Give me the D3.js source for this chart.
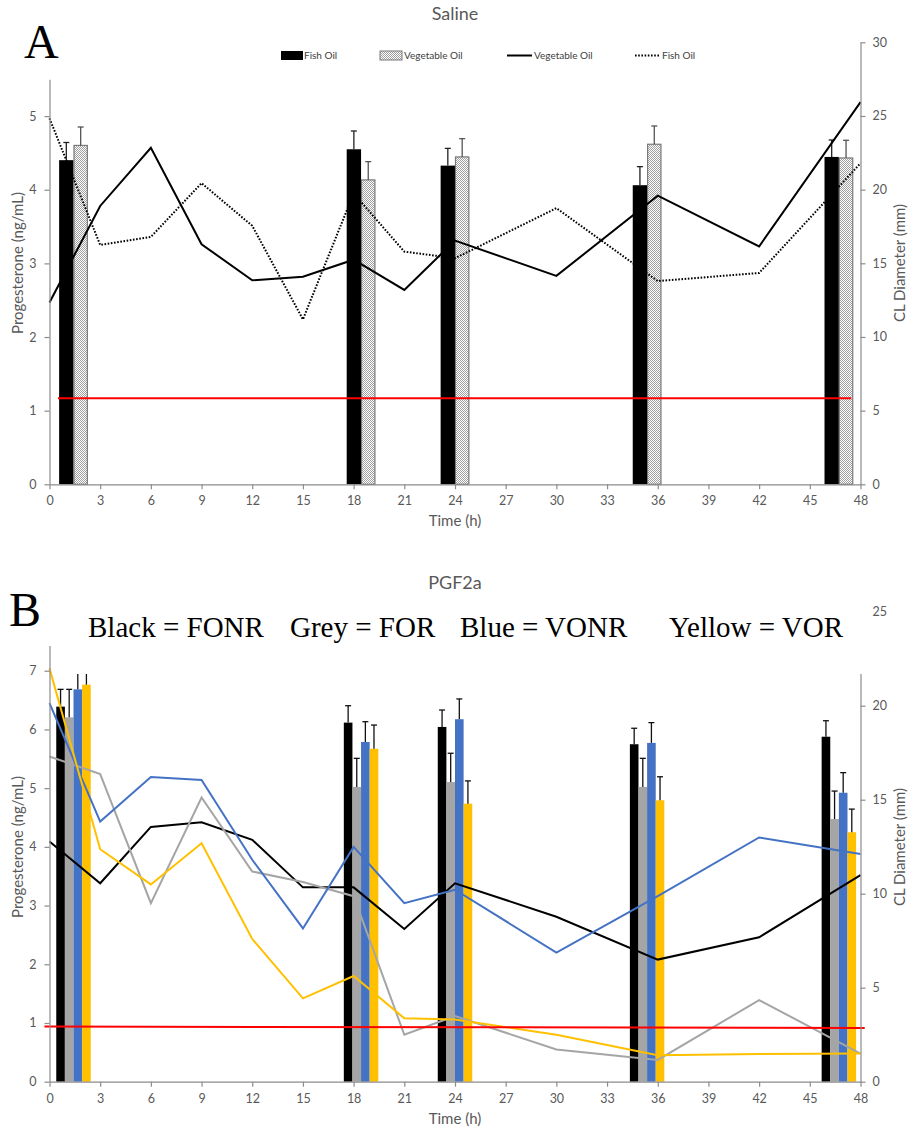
<!DOCTYPE html>
<html><head><meta charset="utf-8">
<script src="https://cdn.jsdelivr.net/npm/d3@7/dist/d3.min.js"></script>
<style>body{margin:0;background:#fff}</style>
</head><body>
<svg id="c" width="909" height="1130" xmlns="http://www.w3.org/2000/svg"></svg>
<script>
// ---------- DATA ----------
const times = [0,3,6,9,12,15,18,21,24,30,36,42,48];
const xTickValues = [0,3,6,9,12,15,18,21,24,27,30,33,36,39,42,45,48];
const barTimes = [1.42,18.44,24.0,35.37,46.72];

// Panel A (Saline) progesterone lines (ng/mL)
const salineVegLine  = [2.47,3.78,4.57,3.26,2.77,2.82,3.05,2.64,3.31,2.83,3.92,3.23,5.19];
const salineFishLine = [4.97,3.25,3.36,4.09,3.51,2.24,3.95,3.16,3.07,3.75,2.76,2.87,4.36];
// Panel A CL diameter bars (mm) and errors
const salineFishBar = [22.0,22.74,21.63,20.3,22.22];
const salineFishErr = [1.2,1.24,1.17,1.26,1.15];
const salineVegBar  = [23.0,20.66,22.22,23.08,22.15];
const salineVegErr  = [1.25,1.24,1.24,1.24,1.2];
const salineThreshold = 1.17;

// Panel B (PGF2a) progesterone lines (ng/mL)
const fonrLine = [4.09,3.38,4.34,4.42,4.12,3.31,3.31,2.60,3.38,2.81,2.08,2.46,3.52];
const forLine  = [5.54,5.24,3.04,4.84,3.58,3.40,3.16,0.80,1.12,0.55,0.37,1.39,0.48];
const vonrLine = [6.45,4.43,5.19,5.14,3.78,2.61,4.00,3.04,3.27,2.20,3.16,4.16,3.88];
const vorLine  = [7.04,3.96,3.36,4.06,2.43,1.42,1.80,1.08,1.06,0.80,0.45,0.47,0.48];
// Panel B CL diameter bars (mm) and errors
const fonrBar = [19.95,19.1,18.87,17.95,18.35];
const fonrErr = [0.92,0.9,0.9,0.85,0.85];
const forBar  = [19.38,15.68,15.94,15.68,13.97];
const forErr  = [1.49,1.52,1.53,1.52,1.49];
const vonrBar = [20.87,18.07,19.28,18.02,15.37];
const vonrErr = [1.2,1.08,1.08,1.08,1.07];
const vorBar  = [21.12,17.71,14.79,14.97,13.27];
const vorErr  = [1.0,1.26,1.21,1.25,1.23];
const pgfThreshold = [0.94,0.915];

const leftTicksA = [0,1,2,3,4,5];
const rightTicksA = [0,5,10,15,20,25,30];
const leftTicksB = [0,1,2,3,4,5,6,7];
const rightTicksB = [0,5,10,15,20,25];

// ---------- DRAW ----------
const svg = d3.select("#c");
const FONT = "Lato, 'Open Sans', sans-serif";
const SERIF = "'Liberation Serif', 'DejaVu Serif', serif";
const AX = "#8c8c8c", TXT = "#595959";

const defs = svg.append("defs");
const pat = defs.append("pattern").attr("id","dots").attr("width",2).attr("height",2)
  .attr("patternUnits","userSpaceOnUse");
pat.append("rect").attr("width",2).attr("height",2).attr("fill","#fff");
pat.append("rect").attr("width",1).attr("height",1).attr("fill","#a0a0a0");
pat.append("rect").attr("x",1).attr("y",1).attr("width",1).attr("height",1).attr("fill","#a0a0a0");

const x = d3.scaleLinear().domain([0,48]).range([49.5,860.5]);
const fmt = d3.format("d");

function styleAxis(g){
  g.select(".domain").attr("stroke",AX).attr("stroke-width",1.2);
  g.selectAll(".tick line").attr("stroke",AX).attr("stroke-width",1.2);
  g.selectAll(".tick text").attr("fill",TXT).style("font-family",FONT).style("font-size","12.5px");
}

function axes(yL, yR, lT, rT, bottom){
  const gx = svg.append("g").attr("transform",`translate(0,${bottom})`)
    .call(d3.axisBottom(x).tickValues(xTickValues).tickFormat(fmt).tickSize(5).tickSizeOuter(0).tickPadding(7));
  styleAxis(gx);
  const gl = svg.append("g").attr("transform",`translate(${x.range()[0]},0)`)
    .call(d3.axisLeft(yL).tickValues(lT).tickFormat(fmt).tickSize(5).tickSizeOuter(0).tickPadding(8));
  styleAxis(gl);
  const gr = svg.append("g").attr("transform",`translate(${x.range()[1]},0)`)
    .call(d3.axisRight(yR).tickValues(rT).tickFormat(fmt).tickSize(5).tickSizeOuter(0).tickPadding(7));
  styleAxis(gr);
  return gr;
}

function errBar(cx, y0, y1, color){
  svg.append("line").attr("x1",cx).attr("x2",cx).attr("y1",y0).attr("y2",y1)
    .attr("stroke",color).attr("stroke-width",1.3);
  svg.append("line").attr("x1",cx-3).attr("x2",cx+3).attr("y1",y1).attr("y2",y1)
    .attr("stroke",color).attr("stroke-width",1.3);
}

function titles(title, ty, bottom, yMid){
  svg.append("text").attr("x",455).attr("y",ty).attr("text-anchor","middle")
    .attr("fill",TXT).style("font-family",FONT).style("font-size","18px").text(title);
  svg.append("text").attr("x",455).attr("y",bottom+42).attr("text-anchor","middle")
    .attr("fill",TXT).style("font-family",FONT).style("font-size","15px").text("Time (h)");
  svg.append("text").attr("transform",`translate(23,${yMid}) rotate(-90)`).attr("text-anchor","middle")
    .attr("fill",TXT).style("font-family",FONT).style("font-size","15px").text("Progesterone (ng/mL)");
  svg.append("text").attr("transform",`translate(905,${yMid}) rotate(-90)`).attr("text-anchor","middle")
    .attr("fill",TXT).style("font-family",FONT).style("font-size","15px").text("CL Diameter (mm)");
}

// ===== Panel A =====
const yA  = d3.scaleLinear().domain([0,5.5]).range([484.3,79.3]);
const yAR = d3.scaleLinear().domain([0,30]).range([484.3,42.3]);
const bwA = 0.85;

barTimes.forEach((c,i)=>{
  const xb0 = x(c-bwA), xb1 = x(c), xv1 = x(c+bwA);
  svg.append("rect").attr("x",xb0).attr("width",xb1-xb0).attr("y",yAR(salineFishBar[i]))
    .attr("height",yAR(0)-yAR(salineFishBar[i])).attr("fill","#000");
  svg.append("rect").attr("x",xb1+0.5).attr("width",xv1-xb1-1).attr("y",yAR(salineVegBar[i]))
    .attr("height",yAR(0)-yAR(salineVegBar[i])).attr("fill","url(#dots)")
    .attr("stroke","#7a7a7a").attr("stroke-width",1.2);
  errBar((xb0+xb1)/2, yAR(salineFishBar[i]), yAR(salineFishBar[i]+salineFishErr[i]), "#222");
  errBar((xb1+xv1)/2, yAR(salineVegBar[i]), yAR(salineVegBar[i]+salineVegErr[i]), "#555");
});

const lineA = d3.line().x((d,i)=>x(times[i])).y(d=>yA(d));
svg.append("path").datum(salineVegLine).attr("d",lineA).attr("fill","none")
  .attr("stroke","#000").attr("stroke-width",2);
svg.append("path").datum(salineFishLine).attr("d",lineA).attr("fill","none")
  .attr("stroke","#000").attr("stroke-width",2).attr("stroke-dasharray","1.6,1.6");
svg.append("line").attr("x1",x(0.5)).attr("x2",x(47.45))
  .attr("y1",yA(salineThreshold)).attr("y2",yA(salineThreshold))
  .attr("stroke","#ff0000").attr("stroke-width",2);

axes(yA, yAR, leftTicksA, rightTicksA, 484.3);
titles("Saline", 20, 484.3, 263);

// legend A
const lg = svg.append("g").style("font-family",FONT).style("font-size","10px").attr("fill","#404040");
lg.append("rect").attr("x",281).attr("y",51).attr("width",22).attr("height",9).attr("fill","#000");
lg.append("text").attr("x",304).attr("y",59).text("Fish Oil");
lg.append("rect").attr("x",380).attr("y",51).attr("width",22).attr("height",9)
  .attr("fill","url(#dots)").attr("stroke","#7a7a7a").attr("stroke-width",1);
lg.append("text").attr("x",404).attr("y",59).text("Vegetable Oil");
lg.append("line").attr("x1",507).attr("x2",532).attr("y1",55.5).attr("y2",55.5)
  .attr("stroke","#000").attr("stroke-width",2);
lg.append("text").attr("x",534).attr("y",59).text("Vegetable Oil");
lg.append("line").attr("x1",635).attr("x2",660).attr("y1",55.5).attr("y2",55.5)
  .attr("stroke","#000").attr("stroke-width",2).attr("stroke-dasharray","1.6,1.6");
lg.append("text").attr("x",662).attr("y",59).text("Fish Oil");

svg.append("text").attr("x",24).attr("y",58).style("font-family",SERIF)
  .style("font-size","48px").attr("fill","#000").text("A");

// ===== Panel B =====
const yB  = d3.scaleLinear().domain([0,7.43]).range([1081.7,1081.7-7.43*58.71]);
const yBR = d3.scaleLinear().domain([0,25]).range([1081.7,1081.7-25*18.8]);
const bwB = 0.51;
const barsB = [
  {v:fonrBar,e:fonrErr,c:"#000000"},
  {v:forBar,e:forErr,c:"#a5a5a5"},
  {v:vonrBar,e:vonrErr,c:"#4472c4"},
  {v:vorBar,e:vorErr,c:"#ffc000"}
];
barTimes.forEach((c,i)=>{
  barsB.forEach((s,k)=>{
    const a = x(c+(k-2)*bwB), b = x(c+(k-1)*bwB);
    svg.append("rect").attr("x",a).attr("width",b-a).attr("y",yBR(s.v[i]))
      .attr("height",yBR(0)-yBR(s.v[i])).attr("fill",s.c);
    errBar((a+b)/2, yBR(s.v[i]), yBR(s.v[i]+s.e[i]), "#111");
  });
});
const linesB = [
  {v:fonrLine,c:"#000000"},
  {v:forLine,c:"#a5a5a5"},
  {v:vonrLine,c:"#4472c4"},
  {v:vorLine,c:"#ffc000"}
];
const lineB = d3.line().x((d,i)=>x(times[i])).y(d=>yB(d));
linesB.forEach(s=>{
  svg.append("path").datum(s.v).attr("d",lineB).attr("fill","none")
    .attr("stroke",s.c).attr("stroke-width",2);
});
svg.append("line").attr("x1",x(-0.3)).attr("x2",x(48.25))
  .attr("y1",yB(pgfThreshold[0])).attr("y2",yB(pgfThreshold[1]))
  .attr("stroke","#ff0000").attr("stroke-width",2);

axes(yB, yBR, leftTicksB, rightTicksB, 1081.7);

// white text box of the legend (covers the top of the plot area)
svg.append("rect").attr("x",54).attr("y",592).attr("width",813).attr("height",674-592).attr("fill","#fff");

titles("PGF2a", 589, 1081.7, 847);

svg.append("text").attr("x",9).attr("y",626).style("font-family",SERIF)
  .style("font-size","48px").attr("fill","#000").text("B");
const legB = [["Black = FONR",88],["Grey = FOR",290],["Blue = VONR",460],["Yellow = VOR",669]];
legB.forEach(([t,px])=>{
  svg.append("text").attr("x",px).attr("y",637).style("font-family",SERIF)
    .style("font-size","29px").attr("fill","#000").text(t);
});
</script>
</body></html>
